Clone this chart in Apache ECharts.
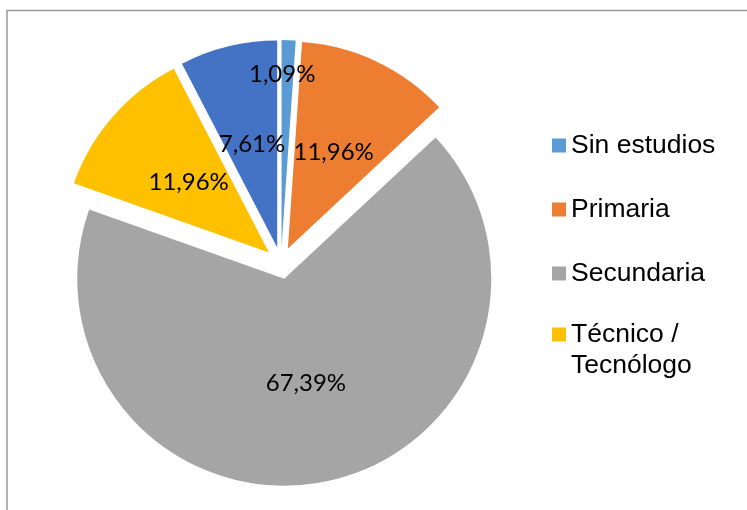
<!DOCTYPE html>
<html>
<head>
<meta charset="utf-8">
<script src="https://cdn.jsdelivr.net/npm/echarts@6/dist/echarts.min.js"></script>
<style>
  html, body { margin: 0; padding: 0; background: #fff; }
  #chart { width: 747px; height: 510px; }
</style>
</head>
<body>
<div id="chart"></div>
<script>
// niveles educativos y porcentajes
const categories = ['Sin estudios', 'Primaria', 'Secundaria', 'Técnico / Tecnólogo', 'Universitario']
const values = [1.09, 11.96, 67.39, 11.96, 7.61]
const colors = ['#5B9BD5', '#ED7D31', '#A5A5A5', '#FFC000', '#4472C4']
const legendTop = ['Sin estudios', 'Primaria', 'Secundaria']
const legendBottom = ['Técnico / Tecnólogo']

const chart = echarts.init(document.getElementById('chart'))

const legendText = {
  fontFamily: 'Liberation Sans, Arial, sans-serif',
  fontSize: 26.5,
  lineHeight: 31,
  color: '#000'
}

const option = {
  animation: false,
  graphic: [
    {
      type: 'rect',
      shape: { x: 7, y: 10.5, width: 800, height: 600 },
      style: { fill: 'none', stroke: '#9a9a9a', lineWidth: 1.5 },
      silent: true
    }
  ],
  legend: [
    {
      data: legendTop,
      orient: 'vertical',
      left: 552,
      top: 130,
      padding: 0,
      itemWidth: 14,
      itemHeight: 14,
      itemGap: 33,
      icon: 'rect',
      selectedMode: false,
      textStyle: legendText
    },
    {
      data: legendBottom,
      orient: 'vertical',
      left: 552,
      top: 288,
      padding: 0,
      itemWidth: 14,
      itemHeight: 14,
      icon: 'rect',
      selectedMode: false,
      // línea vacía al inicio para que el icono quede junto a la primera línea
      formatter: name => '\n' + name.replace(' / ', ' /\n'),
      textStyle: legendText
    }
  ],
  series: [
    {
      type: 'pie',
      center: [281, 263],
      radius: 207,
      startAngle: 90,
      clockwise: true,
      selectedMode: 'multiple',
      selectedOffset: 16,
      avoidLabelOverlap: false,
      itemStyle: { borderWidth: 0 },
      label: {
        show: true,
        position: 'inside',
        formatter: p => p.value.toFixed(2).replace('.', ',') + '%',
        fontFamily: 'Lato, sans-serif',
        fontSize: 24,
        color: '#000'
      },
      labelLine: { show: false },
      labelLayout: p => (p.dataIndex === 0 ? { dx: -3, dy: -66 } : {}),
      emphasis: { disabled: true },
      data: categories.map((name, i) => ({
        name: name,
        value: values[i],
        selected: true,
        itemStyle: { color: colors[i] }
      }))
    }
  ]
}

chart.setOption(option)
</script>
</body>
</html>
